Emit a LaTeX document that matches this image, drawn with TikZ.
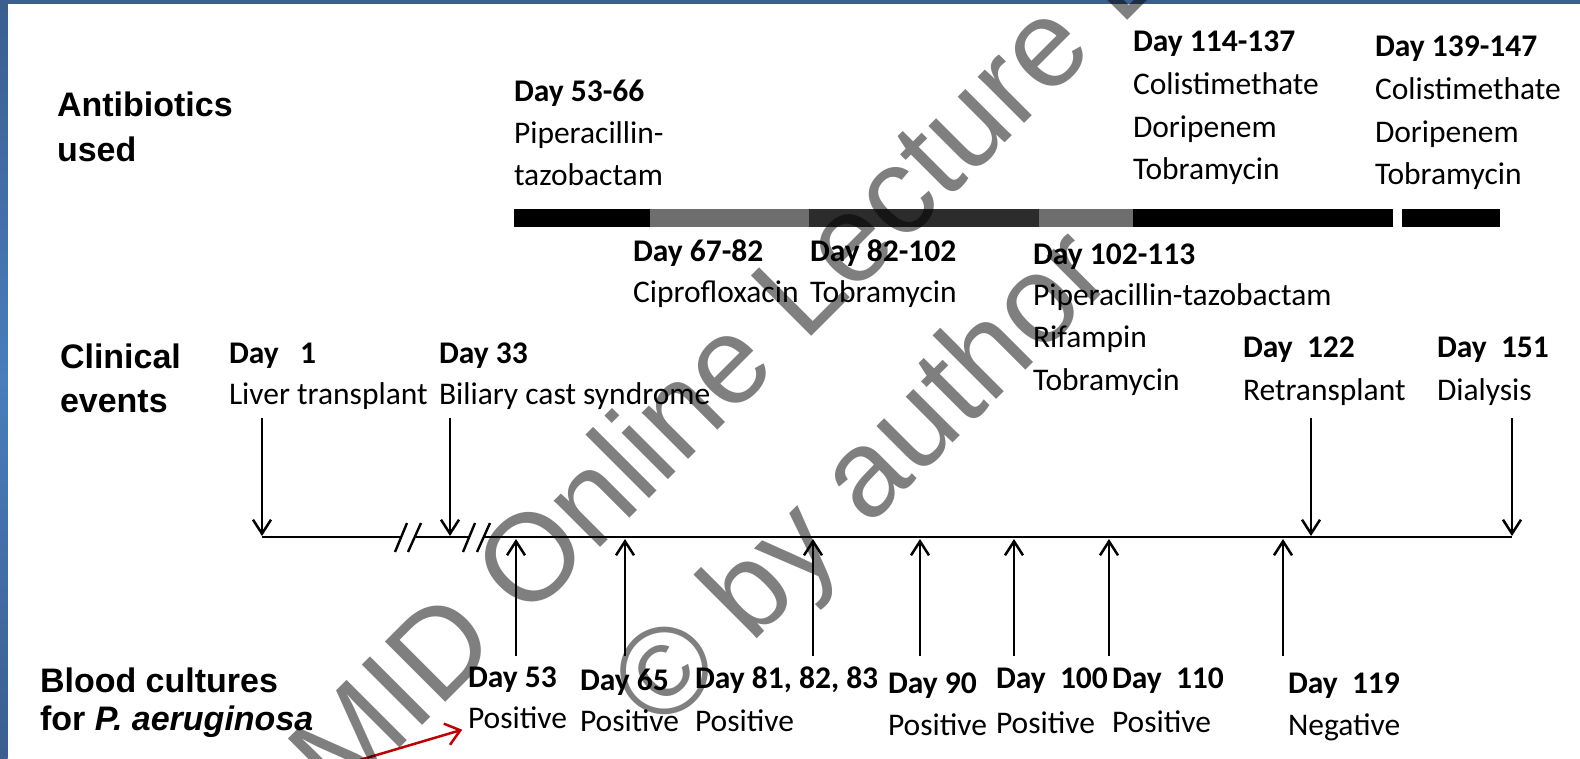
\documentclass[tikz,border=0pt]{standalone}
\usepackage{fontspec}
\setmainfont{Carlito}
\newfontfamily\arialf{Liberation Sans}
\usetikzlibrary{arrows.meta}
\definecolor{frameA}{HTML}{3A5E8E}
\definecolor{frameB}{HTML}{4A7DBD}
\definecolor{barmid}{HTML}{6E6E6E}
\definecolor{bardark}{HTML}{2C2C2C}
\definecolor{redarr}{HTML}{C00000}
\begin{document}
\begin{tikzpicture}[x=1pt,y=-1pt,
  every node/.style={inner sep=0pt, outer sep=0pt, anchor=base west},
  lbl/.style={font=\arialf\bfseries\fontsize{34}{40}\selectfont},
  dayb/.style={font=\bfseries\fontsize{31.5}{40}\selectfont},
  txt/.style={font=\fontsize{31.5}{40}\selectfont},
  tl/.style={line width=2.8pt},
  slashmark/.style={line width=2.4pt},
  evarrow/.style={line width=2.5pt, -{Straight Barb[length=14pt,width=18pt]}},
  redarrow/.style={line width=2.5pt, draw=redarr, -{Straight Barb[length=14pt,width=22pt]}},
  wmark/.style={anchor=base, rotate=45, text=black, text opacity=0.5,
    font=\arialf\fontsize{124}{150}\selectfont}
]
\useasboundingbox (0,0) rectangle (1580,759);
\fill[white] (0,0) rectangle (1580,759);
% slide frame
\shade[top color=frameA, bottom color=frameA, middle color=frameB] (0,0) rectangle (7.5,759);
\fill[frameA] (0,0) rectangle (1580,4);

% antibiotic bars
\fill[black]   (514,209) rectangle (650,227);
\fill[barmid]  (650,209) rectangle (809,227);
\fill[bardark] (809,209) rectangle (1039,227);
\fill[barmid]  (1039,209) rectangle (1133,227);
\fill[black]   (1133,209) rectangle (1393,227);
\fill[black]   (1402,209) rectangle (1500,227);

% row labels
\node[lbl] (antib) at (57,117) {Antibiotics};
\node[lbl] (used) at (57,162) {used};
\node[lbl] (clin) at (60,368) {Clinical};
\node[lbl] (events) at (60,412) {events};
\node[lbl] (blood) at (40,692) {Blood cultures};
\node[lbl] (forpa) at (40,730) {for \textit{P. aeruginosa}};

% antibiotics above bar
\node[dayb] (ab1d) at (514,102) {Day 53-66};
\node[txt] (ab1a) at (514,144) {Piperacillin-};
\node[txt] (ab1b) at (514,186) {tazobactam};
\node[dayb] (ab5d) at (1133,52) {Day 114-137};
\node[txt] (ab5a) at (1133,95) {Colistimethate};
\node[txt] (ab5b) at (1133,138) {Doripenem};
\node[txt] (ab5c) at (1133,180) {Tobramycin};
\node[dayb] (ab6d) at (1375,57) {Day 139-147};
\node[txt] (ab6a) at (1375,100) {Colistimethate};
\node[txt] (ab6b) at (1375,143) {Doripenem};
\node[txt] (ab6c) at (1375,185) {Tobramycin};
% antibiotics below bar
\node[dayb] (ab2d) at (633,262) {Day 67-82};
\node[txt] (ab2a) at (633,303) {Ciprofloxacin};
\node[dayb] (ab3d) at (810,262) {Day 82-102};
\node[txt] (ab3a) at (810,303) {Tobramycin};
\node[dayb] (ab4d) at (1033,265) {Day 102-113};
\node[txt] (ab4a) at (1033,306) {Piperacillin-tazobactam};
\node[txt] (ab4b) at (1033,348) {Rifampin};
\node[txt] (ab4c) at (1033,390) {Tobramycin};

% clinical events
\node[dayb] (ev1d) at (229,363) {Day\ \ \ 1};
\node[txt] (ev1) at (229,404) {Liver transplant};
\node[dayb] (ev2d) at (439,363) {Day 33};
\node[txt] (ev2) at (439,404) {Biliary cast syndrome};
\node[dayb] (ev3d) at (1243,358) {Day\ \ 122};
\node[txt] (ev3) at (1243,400) {Retransplant};
\node[dayb] (ev4d) at (1437,358) {Day\ \ 151};
\node[txt] (ev4) at (1437,400) {Dialysis};

% timeline
\coordinate (tA) at (262,537);
\coordinate (b1a) at (400,537);
\coordinate (b1b) at (416,537);
\coordinate (b2a) at (469,537);
\coordinate (b2b) at (484,537);
\coordinate (tZ) at (1512,537);
\draw[tl] (tA) -- (b1a);
\draw[tl] (b1b) -- (b2a);
\draw[tl] (b2b) -- (tZ);
\draw[slashmark] (395,552) -- (407,523) (408,552) -- (421,523);
\draw[slashmark] (463,552) -- (475,523) (477,552) -- (490,523);

% event arrows (down)
\foreach \n/\x in {e1/262, e2/450, e3/1311, e4/1512}{
  \coordinate (\n s) at (\x,418);
  \coordinate (\n t) at (\x,536);
  \draw[evarrow] (\n s) -- (\n t);
}
% blood culture arrows (up)
\foreach \n/\x in {c1/516, c2/625, c3/813, c4/920, c5/1014, c6/1109, c7/1283}{
  \coordinate (\n s) at (\x,656);
  \coordinate (\n t) at (\x,539);
  \draw[evarrow] (\n s) -- (\n t);
}

% blood cultures labels
\node[dayb] (bc1d) at (468,687) {Day 53};
\node[txt] (bc1) at (468,728) {Positive};
\node[dayb] (bc2d) at (580,690) {Day 65};
\node[txt] (bc2) at (580,731) {Positive};
\node[dayb] (bc3d) at (695,688) {Day 81, 82, 83};
\node[txt] (bc3) at (695,731) {Positive};
\node[dayb] (bc4d) at (888,693) {Day 90};
\node[txt] (bc4) at (888,735) {Positive};
\node[dayb] (bc5d) at (996,688) {Day\ \ 100};
\node[txt] (bc5) at (996,733) {Positive};
\node[dayb] (bc6d) at (1112,688) {Day\ \ 110};
\node[txt] (bc6) at (1112,732) {Positive};
\node[dayb] (bc7d) at (1288,693) {Day\ \ 119};
\node[txt] (bc7) at (1288,735) {Negative};

% red pointer
\coordinate (rs) at (326,770);
\draw[redarrow, shorten >=6pt] (rs) -- (bc1.base west);

% watermark
\node[wmark] (wm1) at (775,373) {ESCMID Online Lecture Library};
\node[wmark] (wm2) at (890,506) {© by author};
\end{tikzpicture}
\end{document}
